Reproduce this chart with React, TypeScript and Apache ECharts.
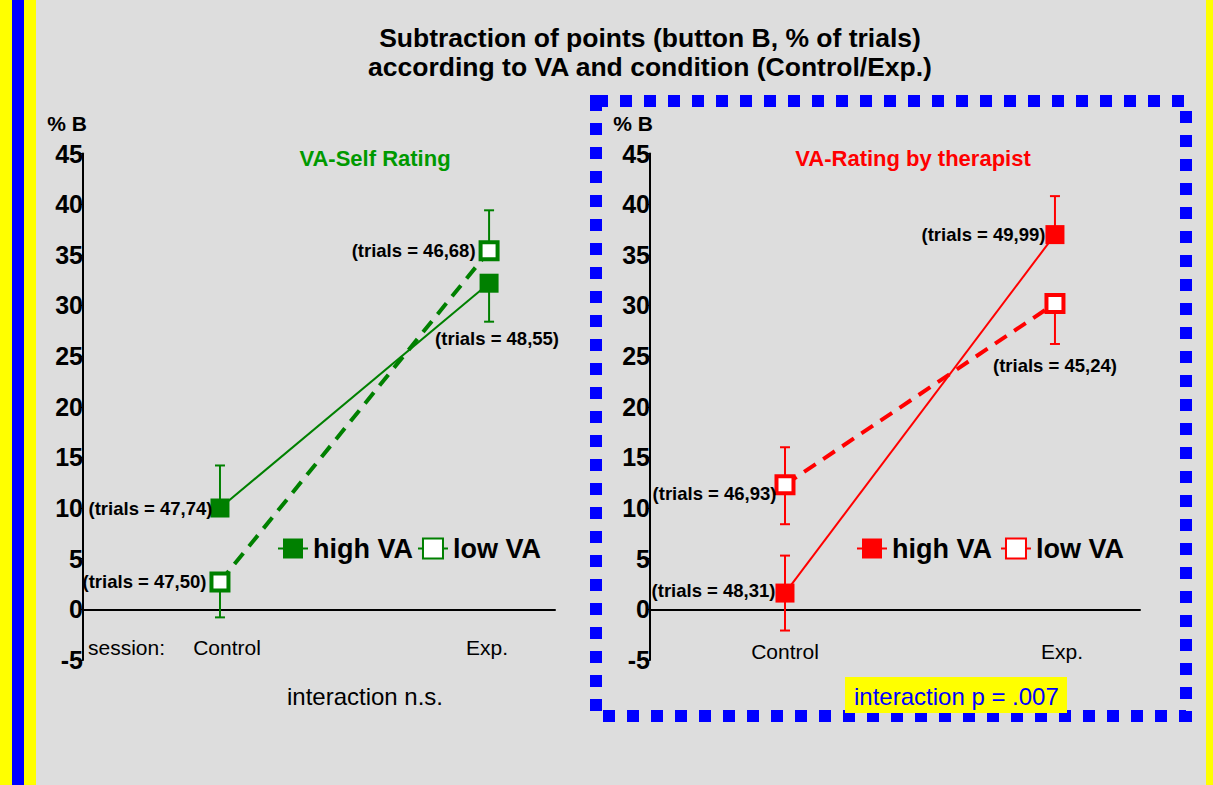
import React, { useEffect, useRef } from 'react';
import * as echarts from 'echarts';

// ---------- data ----------
const categories = ['Control', 'Exp.'];

// VA-Self Rating (left panel)
const selfHigh = [10.0, 32.2];
const selfLow = [2.7, 35.4];
const selfHighErrLo = [10.0, 28.4];
const selfHighErrHi = [14.2, 32.2];
const selfLowErrLo = [-0.8, 35.4];
const selfLowErrHi = [2.7, 39.4];
const selfHighTrials = ['47,74', '48,55'];
const selfLowTrials = ['47,50', '46,68'];

// VA-Rating by therapist (right panel)
const therHigh = [1.6, 37.0];
const therLow = [12.3, 30.2];
const therHighErrLo = [-2.1, 37.0];
const therHighErrHi = [5.3, 40.8];
const therLowErrLo = [8.4, 26.2];
const therLowErrHi = [16.0, 30.2];
const therHighTrials = ['48,31', '49,99'];
const therLowTrials = ['46,93', '45,24'];

const yMin = -5;
const yMax = 45;
const yInterval = 5;

// ---------- style ----------
const FONT = '"Liberation Sans", Arial, Helvetica, sans-serif';
const GREEN = '#008000';
const RED = '#ff0000';
const BLUE = '#0000ff';
const YELLOW = '#ffff00';
const BG = '#dddddd';

type LabelPlace = { position: string; distance: number; offset: [number, number] };

const selfHighPlace: LabelPlace[] = [
  { position: 'left', distance: -2, offset: [0, 0] },
  { position: 'bottom', distance: 36, offset: [8, 0] },
];
const selfLowPlace: LabelPlace[] = [
  { position: 'left', distance: 3, offset: [0, 0] },
  { position: 'left', distance: 3, offset: [0, 0] },
];
const therHighPlace: LabelPlace[] = [
  { position: 'left', distance: 0, offset: [0, -3] },
  { position: 'left', distance: 0, offset: [0, 0] },
];
const therLowPlace: LabelPlace[] = [
  { position: 'left', distance: -2, offset: [0, 9] },
  { position: 'bottom', distance: 42, offset: [0, 0] },
];

function pointData(values: number[], trials: string[], place: LabelPlace[]) {
  return values.map((v, i) => ({
    value: [i, v],
    label: {
      show: true,
      position: place[i].position,
      distance: place[i].distance,
      offset: place[i].offset,
      formatter: `(trials = ${trials[i]})`,
      fontFamily: FONT,
      fontSize: 18.5,
      fontWeight: 'bold',
      color: '#000',
    },
  }));
}

function errData(lo: number[], hi: number[]) {
  return lo.map((l, i) => [i, l, hi[i]]);
}

function errSeries(name: string, lo: number[], hi: number[], color: string, gi: number) {
  return {
    type: 'custom',
    name,
    xAxisIndex: gi,
    yAxisIndex: gi,
    z: 1,
    silent: true,
    encode: { x: 0, y: [1, 2] },
    data: errData(lo, hi),
    renderItem: (params: any, api: any) => {
      const x = api.value(0);
      const p1 = api.coord([x, api.value(1)]);
      const p2 = api.coord([x, api.value(2)]);
      const w = 5;
      const style = { stroke: color, lineWidth: 2 };
      return {
        type: 'group',
        children: [
          { type: 'line', shape: { x1: p1[0], y1: p1[1], x2: p2[0], y2: p2[1] }, style },
          { type: 'line', shape: { x1: p1[0] - w, y1: p1[1], x2: p1[0] + w, y2: p1[1] }, style },
          { type: 'line', shape: { x1: p2[0] - w, y1: p2[1], x2: p2[0] + w, y2: p2[1] }, style },
        ],
      };
    },
  };
}

function lineSeries(
  name: string,
  values: number[],
  trials: string[],
  place: LabelPlace[],
  color: string,
  filled: boolean,
  gi: number
) {
  return {
    type: 'line',
    name,
    xAxisIndex: gi,
    yAxisIndex: gi,
    z: 3,
    data: pointData(values, trials, place),
    symbol: 'rect',
    symbolSize: filled ? 19 : 17,
    showAllSymbol: true,
    itemStyle: filled
      ? { color, borderColor: color, borderWidth: 0 }
      : { color: '#ffffff', borderColor: color, borderWidth: 4 },
    lineStyle: filled
      ? { color, width: 2, type: 'solid' }
      : { color, width: 4, type: [14, 9] },
    emphasis: { disabled: true },
  };
}

function yAxis(gi: number) {
  return {
    type: 'value',
    gridIndex: gi,
    min: yMin,
    max: yMax,
    interval: yInterval,
    axisLine: { show: true, onZero: false, lineStyle: { color: '#000', width: 2 } },
    axisTick: { show: true, length: 3, lineStyle: { color: '#000', width: 1 } },
    axisLabel: {
      fontFamily: FONT,
      fontSize: 25,
      fontWeight: 'bold',
      color: '#000',
      margin: 0,
    },
    splitLine: { show: false },
  };
}

function xAxis(gi: number, min: number, max: number, margin: number, shifts: number[]) {
  const keys = ['c', 'e'];
  const rich: any = {};
  keys.forEach((k, i) => {
    const s = shifts[i];
    rich[k] = {
      fontFamily: FONT,
      fontSize: 21,
      color: '#000',
      padding: s >= 0 ? [0, 0, 0, 2 * s] : [0, -2 * s, 0, 0],
    };
  });
  return {
    type: 'value',
    gridIndex: gi,
    min,
    max,
    axisLine: { show: true, onZero: true, lineStyle: { color: '#000', width: 2 } },
    axisTick: { show: false },
    splitLine: { show: false },
    axisLabel: {
      customValues: [0, 1],
      formatter: (v: number) => {
        const i = Math.round(v);
        return categories[i] !== undefined ? `{${keys[i]}|${categories[i]}}` : '';
      },
      rich,
      fontFamily: FONT,
      fontSize: 21,
      color: '#000',
      margin,
    },
  };
}

const sideText = (text: string, x: number, y: number, extra: any = {}) => ({
  type: 'text',
  x,
  y,
  style: {
    text,
    fontFamily: FONT,
    fill: '#000',
    verticalAlign: 'middle',
    ...extra,
  },
});

export default function App() {
  const ref = useRef<HTMLDivElement>(null);

  useEffect(() => {
    if (!ref.current) return;
    const chart = echarts.init(ref.current, undefined, { renderer: 'svg' });

    const legendCommon = {
      orient: 'horizontal',
      itemWidth: 30,
      itemHeight: 25,
      textStyle: { fontFamily: FONT, fontSize: 27, fontWeight: 'bold', color: '#000' },
      lineStyle: { type: 'solid', width: 2 },
      selectedMode: false,
    };

    const option: any = {
      animation: false,
      backgroundColor: BG,
      grid: [
        { left: 83, top: 153.6, width: 472, height: 506.3 },
        { left: 650, top: 153.6, width: 490, height: 506.3 },
      ],
      xAxis: [xAxis(0, -0.509, 1.245, -23, [7, -2]), xAxis(1, -0.5, 1.315, -19, [0, 7])],
      yAxis: [yAxis(0), yAxis(1)],
      legend: [
        {
          ...legendCommon,
          data: ['high VA', 'low VA'],
          left: 272,
          top: 530,
          itemGap: 4,
        },
        {
          ...legendCommon,
          data: ['high VA (therapist)', 'low VA (therapist)'],
          left: 851,
          top: 530,
          itemGap: 8,
          formatter: (n: string) => n.replace(' (therapist)', ''),
        },
      ],
      series: [
        errSeries('err self high', selfHighErrLo, selfHighErrHi, GREEN, 0),
        errSeries('err self low', selfLowErrLo, selfLowErrHi, GREEN, 0),
        errSeries('err ther high', therHighErrLo, therHighErrHi, RED, 1),
        errSeries('err ther low', therLowErrLo, therLowErrHi, RED, 1),
        lineSeries('high VA', selfHigh, selfHighTrials, selfHighPlace, GREEN, true, 0),
        lineSeries('low VA', selfLow, selfLowTrials, selfLowPlace, GREEN, false, 0),
        lineSeries('high VA (therapist)', therHigh, therHighTrials, therHighPlace, RED, true, 1),
        lineSeries('low VA (therapist)', therLow, therLowTrials, therLowPlace, RED, false, 1),
      ],
      graphic: [
        // side stripes
        { type: 'rect', shape: { x: 0, y: 0, width: 12, height: 785 }, style: { fill: YELLOW }, silent: true },
        { type: 'rect', shape: { x: 12, y: 0, width: 12, height: 785 }, style: { fill: BLUE }, silent: true },
        { type: 'rect', shape: { x: 24, y: 0, width: 12, height: 785 }, style: { fill: YELLOW }, silent: true },
        { type: 'rect', shape: { x: 1206, y: 0, width: 7, height: 785 }, style: { fill: YELLOW }, silent: true },
        // dotted frame around right panel
        {
          type: 'rect',
          shape: { x: 596, y: 101, width: 590, height: 615 },
          style: { fill: 'none', stroke: BLUE, lineWidth: 12, lineDash: [12, 12] },
          silent: true,
        },
        // main title
        sideText('Subtraction of points (button B, % of trials)', 650, 38, {
          fontSize: 26.5,
          fontWeight: 'bold',
          align: 'center',
        }),
        sideText('according to VA and condition (Control/Exp.)', 650, 67, {
          fontSize: 26.5,
          fontWeight: 'bold',
          align: 'center',
        }),
        // axis names
        sideText('% B', 87, 123, { fontSize: 21, fontWeight: 'bold', align: 'right' }),
        sideText('% B', 653, 123, { fontSize: 21, fontWeight: 'bold', align: 'right' }),
        // panel subtitles
        sideText('VA-Self Rating', 375, 158, {
          fontSize: 22,
          fontWeight: 'bold',
          fill: '#009900',
          align: 'center',
        }),
        sideText('VA-Rating by therapist', 913, 158, {
          fontSize: 22,
          fontWeight: 'bold',
          fill: RED,
          align: 'center',
        }),
        // session label
        sideText('session:', 88, 647, { fontSize: 21, align: 'left' }),
        // interaction notes
        sideText('interaction n.s.', 365, 696, { fontSize: 24, align: 'center' }),
        {
          type: 'rect',
          z: 10,
          shape: { x: 845, y: 677, width: 222, height: 36 },
          style: { fill: YELLOW },
          silent: true,
        },
        {
          ...sideText('interaction p = .007', 854, 696, { fontSize: 24, align: 'left', fill: BLUE }),
          z: 11,
        },
      ],
    };

    chart.setOption(option);
    return () => chart.dispose();
  }, []);

  return (
    <div
      ref={ref}
      style={{ position: 'fixed', left: 0, top: 0, width: 1213, height: 785 }}
    />
  );
}
